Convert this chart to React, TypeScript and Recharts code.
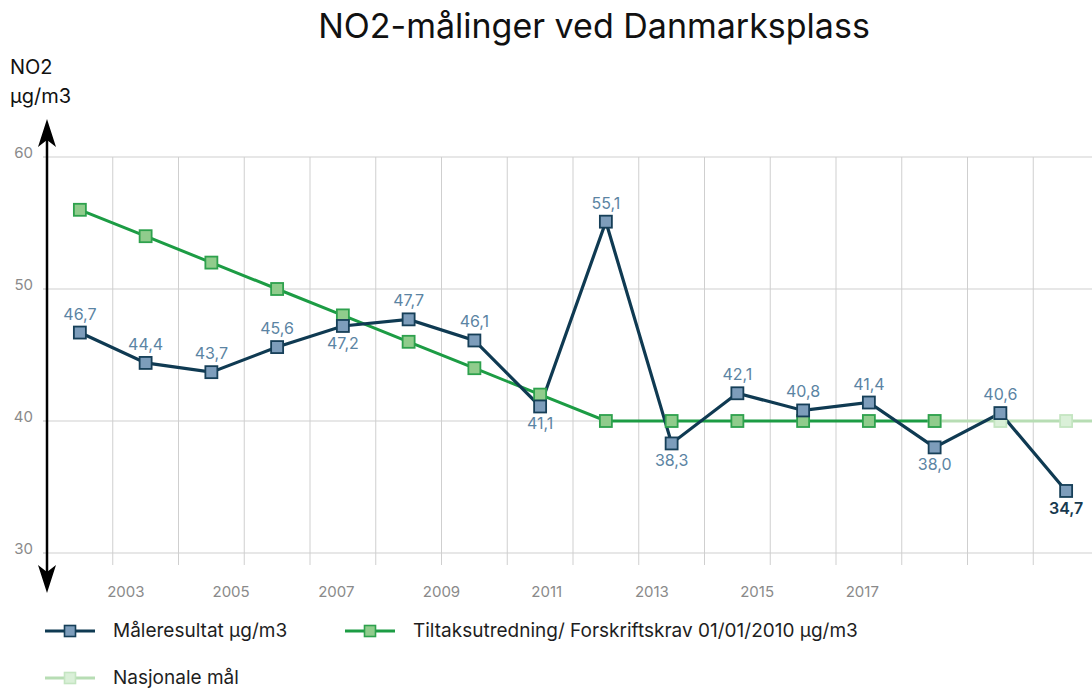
import React from 'react';
import { LineChart, Line, XAxis, YAxis, CartesianGrid, Legend, ReferenceLine } from 'recharts';

// år på x-aksen (ett felt per år)
const years = [2002, 2003, 2004, 2005, 2006, 2007, 2008, 2009, 2010, 2011, 2012, 2013, 2014, 2015, 2016, 2017];

const maaleresultat = [46.7, 44.4, 43.7, 45.6, 47.2, 47.7, 46.1, 41.1, 55.1, 38.3, 42.1, 40.8, 41.4, 38.0, 40.6, 34.7];
const tiltakskrav = [56, 54, 52, 50, 48, 46, 44, 42, 40, 40, 40, 40, 40, 40, null, null];
const nasjonaleMaal = [null, null, null, null, null, null, null, null, null, null, null, null, null, 40, 40, 40];

// hvor verdietiketten står i forhold til punktet
const labelPlacement = ['over', 'over', 'over', 'over', 'under', 'over', 'over', 'under', 'over', 'under', 'over', 'over', 'over', 'under', 'over', 'under'];

const yTicks = [30, 40, 50, 60];
const yearTickLabels = [2003, 2005, 2007, 2009, 2011, 2013, 2015, 2017];
// etikettaksen i originalen har sitt eget (bredere) spenn
const labelAxisDomain = [2001.5, 2021.5];

const xMin = years[0] - 0.5;
const xMax = years[years.length - 1] + 0.5;
const gridTicks = [...years.map((y) => y - 0.5), xMax];

const data = years.map((year, i) => ({
  year,
  maale: maaleresultat[i],
  tiltak: tiltakskrav[i],
  nasjonal: nasjonaleMaal[i],
}));

const series = {
  maale: { name: 'Måleresultat µg/m3', line: '#0f3a52', fill: '#7d9dbb', dotStroke: '#163f58', width: 3.2 },
  tiltak: { name: 'Tiltaksutredning/ Forskriftskrav 01/01/2010 µg/m3', line: '#1c9c44', fill: '#90cc8c', dotStroke: '#2ea14d', width: 3 },
  nasjonal: { name: 'Nasjonale mål', line: '#b7ddb4', fill: '#daf0d8', dotStroke: '#c4e5c1', width: 3 },
} as const;
const legendOrder = ['maale', 'tiltak', 'nasjonal'] as const;
const legendItemWidth = { maale: 300, tiltak: 520, nasjonal: 300 };

const FONT = "Inter, 'Noto Sans', sans-serif";
const CHART_W = 1110;
const CHART_H = 691;
const PLOT_TOP = 157;
const PLOT_BOTTOM = 553;
const YAXIS_W = 47;
const GRID_AXIS_H = 12;
const LABEL_AXIS_H = 35;

const fmt = (v: number) => v.toFixed(1).replace('.', ',');

const noTickLabel = (props: any) => <g key={`nt-${props.index}`} />;

const squareDot = (key: keyof typeof series, size = 12) => (props: any) => {
  const { cx, cy, index, value } = props;
  const s = series[key];
  if (cx == null || cy == null || value == null || (Array.isArray(value) && value[1] == null)) {
    return <g key={`${key}-dot-${index}`} />;
  }
  return (
    <rect
      key={`${key}-dot-${index}`}
      x={cx - size / 2}
      y={cy - size / 2}
      width={size}
      height={size}
      fill={s.fill}
      stroke={s.dotStroke}
      strokeWidth={1.8}
    />
  );
};

const renderValueLabel = (props: any) => {
  const { index, value } = props;
  const x = props.x ?? props.viewBox?.x;
  const y = props.y ?? props.viewBox?.y;
  if (value == null || x == null || y == null) return null;
  const below = labelPlacement[index] === 'under';
  const last = index === maaleresultat.length - 1;
  return (
    <text
      key={`lbl-${index}`}
      x={x}
      y={below ? y + 23 : y - 13}
      textAnchor="middle"
      fontSize={16}
      fill={last ? '#17394f' : '#5b84a3'}
      fontWeight={last ? 600 : 400}
    >
      {fmt(Number(value))}
    </text>
  );
};

const LegendMarker = ({ k }: { k: keyof typeof series }) => {
  const s = series[k];
  return (
    <svg width={50} height={14} style={{ marginRight: 18, flex: 'none' }}>
      <line x1={0} y1={7} x2={50} y2={7} stroke={s.line} strokeWidth={3} />
      <rect x={19.5} y={1.5} width={11} height={11} fill={s.fill} stroke={s.dotStroke} strokeWidth={1.6} />
    </svg>
  );
};

const renderLegend = (props: any) => {
  const payload: any[] = props.payload || [];
  const keys = legendOrder.filter((k) => payload.length === 0 || payload.some((p) => p.dataKey === k));
  return (
    <div style={{ display: 'flex', flexWrap: 'wrap', width: 840, fontFamily: FONT }}>
      {keys.map((k) => {
        const entry = payload.find((p) => p.dataKey === k);
        return (
          <div key={k} style={{ display: 'flex', alignItems: 'center', height: 47, width: legendItemWidth[k] }}>
            <LegendMarker k={k} />
            <span style={{ fontSize: 19, color: '#1e1e1e', whiteSpace: 'nowrap' }}>{entry?.value ?? series[k].name}</span>
          </div>
        );
      })}
    </div>
  );
};

const AxisArrow = () => (
  <svg width={80} height={620} style={{ position: 'absolute', left: 0, top: 0, pointerEvents: 'none' }}>
    <line x1={YAXIS_W} y1={138} x2={YAXIS_W} y2={574} stroke="#000" strokeWidth={2.5} />
    <polygon points={`${YAXIS_W},119 ${YAXIS_W - 9},147 ${YAXIS_W},140 ${YAXIS_W + 9},147`} fill="#000" />
    <polygon points={`${YAXIS_W},593 ${YAXIS_W - 9},565 ${YAXIS_W},572 ${YAXIS_W + 9},565`} fill="#000" />
  </svg>
);

export default function App() {
  return (
    <div
      style={{
        position: 'fixed',
        left: 0,
        top: 0,
        width: 1092,
        height: 691,
        overflow: 'hidden',
        background: '#fff',
        fontFamily: FONT,
      }}
    >
      <div
        style={{
          position: 'absolute',
          left: 594,
          top: 9,
          transform: 'translateX(-50%)',
          fontSize: 34,
          lineHeight: 1,
          color: '#111',
          whiteSpace: 'nowrap',
        }}
      >
        NO2-målinger ved Danmarksplass
      </div>
      <div style={{ position: 'absolute', left: 10, top: 53, fontSize: 20, lineHeight: '29px', color: '#111' }}>
        NO2
        <br />
        µg/m3
      </div>

      <LineChart
        width={CHART_W}
        height={CHART_H}
        data={data}
        margin={{
          top: PLOT_TOP,
          right: 11,
          left: 0,
          bottom: CHART_H - PLOT_BOTTOM - GRID_AXIS_H - LABEL_AXIS_H,
        }}
      >
        <CartesianGrid stroke="#cfcfcf" strokeWidth={1} />
        <XAxis
          dataKey="year"
          type="number"
          domain={[xMin, xMax]}
          ticks={gridTicks}
          tick={noTickLabel}
          tickSize={GRID_AXIS_H}
          tickLine={{ stroke: '#cfcfcf' }}
          axisLine={false}
          height={GRID_AXIS_H}
          interval={0}
        />
        <XAxis
          xAxisId="labels"
          dataKey="year"
          type="number"
          domain={labelAxisDomain}
          allowDataOverflow
          ticks={yearTickLabels}
          interval={0}
          tickLine={false}
          axisLine={false}
          tickSize={6}
          tickMargin={15}
          height={LABEL_AXIS_H}
          tick={{ fill: '#8a8a8a', fontSize: 15 }}
        />
        <YAxis
          domain={[30, 60]}
          ticks={yTicks}
          width={YAXIS_W}
          axisLine={false}
          tickSize={4}
          tickMargin={10}
          tickLine={{ stroke: '#bbbbbb' }}
          tick={{ fill: '#8a8a8a', fontSize: 15, dy: -4 }}
        />
        <ReferenceLine
          segment={[
            { x: years[years.length - 1], y: 40 },
            { x: xMax, y: 40 },
          ]}
          stroke={series.nasjonal.line}
          strokeWidth={series.nasjonal.width}
        />
        <Line
          dataKey="nasjonal"
          name={series.nasjonal.name}
          stroke={series.nasjonal.line}
          strokeWidth={series.nasjonal.width}
          dot={squareDot('nasjonal')}
          activeDot={false}
          isAnimationActive={false}
        />
        <Line
          dataKey="tiltak"
          name={series.tiltak.name}
          stroke={series.tiltak.line}
          strokeWidth={series.tiltak.width}
          dot={squareDot('tiltak')}
          activeDot={false}
          isAnimationActive={false}
        />
        <Line
          dataKey="maale"
          name={series.maale.name}
          stroke={series.maale.line}
          strokeWidth={series.maale.width}
          dot={squareDot('maale')}
          activeDot={false}
          label={renderValueLabel}
          isAnimationActive={false}
        />
        <Legend
          layout="horizontal"
          verticalAlign="middle"
          align="center"
          content={renderLegend}
          wrapperStyle={{ position: 'absolute', top: 607, left: 45, width: 850, height: 94 }}
        />
      </LineChart>
      <AxisArrow />
    </div>
  );
}
